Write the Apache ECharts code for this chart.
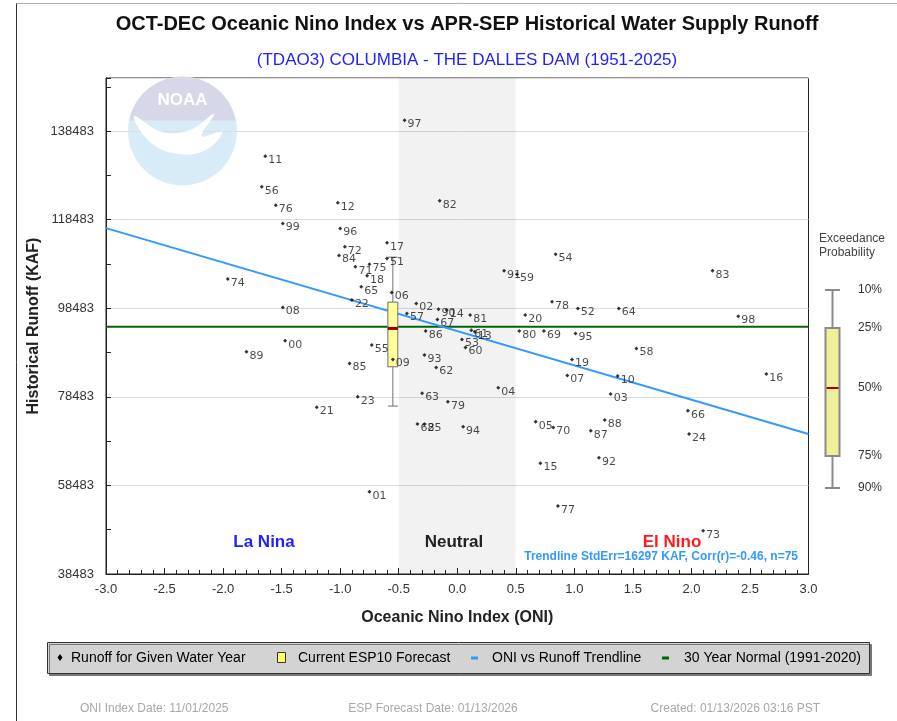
<!DOCTYPE html>
<html>
<head>
<meta charset="utf-8">
<title>ONI vs Runoff - The Dalles</title>
<script src="https://cdn.jsdelivr.net/npm/echarts@6.0.0/dist/echarts.min.js"></script>
<style>
html, body { margin: 0; padding: 0; background: #fff; }
#main { width: 897px; height: 721px; }
</style>
</head>
<body>
<div id="main"></div>
<script>
// water years 1951-2025, 2 digit labels
var years = ['51','52','53','54','55','56','57','58','59','60','61','62','63','64','65','66','67','68','69','70',
             '71','72','73','74','75','76','77','78','79','80','81','82','83','84','85','86','87','88','89','90',
             '91','92','93','94','95','96','97','98','99','00','01','02','03','04','05','06','07','08','09','10',
             '11','12','13','14','15','16','17','18','19','20','21','22','23','24','25'];
// OCT-DEC ONI
var oni = [-0.60, 1.03, 0.04, 0.84, -0.73, -1.67, -0.43, 1.53, 0.51, 0.07, 0.12, -0.18, -0.30, 1.38, -0.82, 1.97, -0.17, -0.34, 0.74, 0.82,
           -0.87, -0.96, 2.10, -1.96, -0.75, -1.55, 0.86, 0.81, -0.08, 0.53, 0.11, -0.15, 2.18, -1.01, -0.92, -0.27, 1.14, 1.26, -1.80, -0.16,
           0.40, 1.21, -0.28, 0.05, 1.01, -1.00, -0.45, 2.40, -1.49, -1.47, -0.75, -0.35, 1.31, 0.35, 0.67, -0.56, 0.94, -1.49, -0.55, 1.37,
           -1.64, -1.02, 0.15, -0.09, 0.71, 2.64, -0.60, -0.77, 0.98, 0.58, -1.20, -0.90, -0.85, 1.98, -0.28];
// APR-SEP runoff (KAF)
var runoff = [109740, 98450, 91460, 110710, 90170, 125900, 97320, 89420, 106190, 89650, 93550, 85140, 79270, 98450, 103330, 75340, 95970, 72340, 93330, 71590,
              107840, 112360, 48260, 105070, 108450, 121770, 53830, 99940, 77370, 93330, 96940, 122740, 106940, 110410, 86040, 93330, 70830, 73240, 88660, 98290,
              106940, 64730, 87910, 71730, 92810, 116510, 140950, 96710, 117640, 91140, 57060, 99580, 79110, 80530, 72860, 102060, 83330, 98680, 86940, 83170,
              132830, 122290, 93170, 98070, 63470, 83620, 113260, 105810, 86940, 96940, 76110, 100330, 78500, 70080, 72300];

var trendOni = [-3, 3];
var trendRunoff = [116575, 70081];
var normalRunoff = 94300;

// current ESP10 forecast, exceedance 10/25/50/75/90 %
var espOni = -0.55;
var espRunoff = [110030, 99873, 93937, 85271, 76401];
var exceedLabels = ['10%', '25%', '50%', '75%', '90%'];

var yMin = 38483, yMax = 150483;

var chart = echarts.init(document.getElementById('main'));

var pts = [];
for (var i = 0; i < oni.length; i++) {
    pts.push([oni[i], runoff[i], years[i]]);
}

function renderBox(params, api) {
    var x = api.value(0);
    var p10 = api.coord([x, api.value(1)]);
    var p25 = api.coord([x, api.value(2)]);
    var p50 = api.coord([x, api.value(3)]);
    var p75 = api.coord([x, api.value(4)]);
    var p90 = api.coord([x, api.value(5)]);
    var hw = 5;
    var ln = { stroke: '#6e6e6e', lineWidth: 1 };
    return {
        type: 'group',
        children: [
            { type: 'line', shape: { x1: p10[0], y1: p10[1], x2: p25[0], y2: p25[1] }, style: ln },
            { type: 'line', shape: { x1: p75[0], y1: p75[1], x2: p90[0], y2: p90[1] }, style: ln },
            { type: 'line', shape: { x1: p10[0] - hw, y1: p10[1], x2: p10[0] + hw, y2: p10[1] }, style: ln },
            { type: 'line', shape: { x1: p90[0] - hw, y1: p90[1], x2: p90[0] + hw, y2: p90[1] }, style: ln },
            { type: 'rect', shape: { x: p25[0] - hw, y: p25[1], width: hw * 2, height: p75[1] - p25[1] },
              style: { fill: '#ffff99', stroke: '#6e6e6e', lineWidth: 1 } },
            { type: 'line', shape: { x1: p50[0] - hw, y1: p50[1], x2: p50[0] + hw, y2: p50[1] },
              style: { stroke: '#990000', lineWidth: 3 } }
        ]
    };
}

// exceedance legend on the right
var exY = [290, 328, 388, 456, 488];
var exGraphic = [
    { type: 'text', x: 819, y: 232, style: { text: 'Exceedance\nProbability', fill: '#444', font: '12px "Liberation Sans"', lineHeight: 14 } },
    { type: 'line', shape: { x1: 832.5, y1: exY[0], x2: 832.5, y2: exY[4] }, style: { stroke: '#8a8a8a', lineWidth: 2 } },
    { type: 'line', shape: { x1: 825, y1: exY[0], x2: 840, y2: exY[0] }, style: { stroke: '#8a8a8a', lineWidth: 2 } },
    { type: 'line', shape: { x1: 825, y1: exY[4], x2: 840, y2: exY[4] }, style: { stroke: '#8a8a8a', lineWidth: 2 } },
    { type: 'rect', shape: { x: 825.5, y: exY[1], width: 14, height: exY[3] - exY[1] }, style: { fill: '#f0f09a', stroke: '#8a8a8a', lineWidth: 2 } },
    { type: 'line', shape: { x1: 826.5, y1: exY[2], x2: 838.5, y2: exY[2] }, style: { stroke: '#a00000', lineWidth: 2 } }
];
for (var k = 0; k < exceedLabels.length; k++) {
    exGraphic.push({ type: 'text', x: 858, y: exY[k], style: { text: exceedLabels[k], fill: '#333', font: '12px "Liberation Sans"', verticalAlign: 'middle' } });
}

var legendFont = '14px "Liberation Sans Narrow", "Arial Narrow", "Liberation Sans"';
var footFont = '12px "Liberation Sans Narrow", "Arial Narrow", "Liberation Sans"';

chart.setOption({
    animation: false,
    backgroundColor: '#fff',
    title: [
        { text: 'OCT-DEC Oceanic Nino Index vs APR-SEP Historical Water Supply Runoff', left: 462, top: 9, textAlign: 'center',
          textStyle: { fontFamily: 'Liberation Sans', fontSize: 20, fontWeight: 'bold', color: '#111' } },
        { text: '(TDAO3) COLUMBIA - THE DALLES DAM (1951-2025)', left: 462, top: 47, textAlign: 'center',
          textStyle: { fontFamily: 'Liberation Sans', fontSize: 17, fontWeight: 'normal', color: '#1f1fff' } }
    ],
    grid: { left: 106, right: 88.5, top: 78, bottom: 147, show: true, borderColor: '#222', borderWidth: 1, backgroundColor: 'transparent' },
    xAxis: {
        type: 'value', min: -3, max: 3, interval: 0.5,
        name: 'Oceanic Nino Index (ONI)', nameLocation: 'middle', nameGap: 36,
        nameTextStyle: { fontFamily: 'Liberation Sans', fontSize: 16, fontWeight: 'bold', color: '#222' },
        axisLine: { lineStyle: { color: '#222' } },
        axisTick: { inside: true, length: 6, lineStyle: { color: '#222' } },
        minorTick: { show: true, splitNumber: 5, length: 4, lineStyle: { color: '#222' } },
        axisLabel: { margin: 9, fontFamily: 'Liberation Sans', fontSize: 13, color: '#333', formatter: function (v) { return v.toFixed(1); } },
        splitLine: { show: false }
    },
    yAxis: [
        {
            type: 'value', min: yMin, max: yMax, interval: 10000,
            name: 'Historical Runoff (KAF)', nameLocation: 'middle', nameGap: 64, nameRotate: 90,
            nameTextStyle: { fontFamily: 'Liberation Sans', fontSize: 16, fontWeight: 'bold', color: '#222' },
            axisLine: { show: true, onZero: false, lineStyle: { color: '#222' } },
            axisTick: { inside: true, length: 5, lineStyle: { color: '#222' } },
            axisLabel: { show: false },
            splitLine: { show: false }
        },
        {
            type: 'value', min: yMin, max: yMax, interval: 20000, position: 'left',
            axisLine: { show: false, onZero: false },
            axisTick: { show: false },
            axisLabel: { margin: 12, fontFamily: 'Liberation Sans', fontSize: 13, color: '#333',
                formatter: function (v) { return v >= yMax ? '' : String(v); } },
            splitLine: { show: true, lineStyle: { color: '#dcdcdc', width: 1 } }
        }
    ],
    graphic: [
        // faded NOAA logo
        { type: 'circle', z: 0, shape: { cx: 182.5, cy: 131, r: 54.5 },
          style: { fill: new echarts.graphic.LinearGradient(0, 0, 0, 1, [
              { offset: 0, color: '#d6d8ea' }, { offset: 0.40, color: '#d6d8ea' },
              { offset: 0.41, color: '#d8ecf8' }, { offset: 1, color: '#d8ecf8' }]) } },
        { type: 'polygon', z: 1, shape: { smooth: 0.4, points: [[134, 116], [162, 132], [190, 130], [214, 114], [202, 136], [222, 132], [206, 150], [178, 154], [150, 142]] },
          style: { fill: '#ffffff' } },
        { type: 'text', z: 1, x: 182.5, y: 100, style: { text: 'NOAA', fill: '#ffffff', font: 'bold 17px "Liberation Sans"', align: 'center', verticalAlign: 'middle' } },
        { type: 'text', x: 264, y: 542, z: 10, style: { text: 'La Nina', fill: '#1f1fff', font: 'bold 17px "Liberation Sans"', align: 'center', verticalAlign: 'middle' } },
        { type: 'text', x: 454, y: 542, z: 10, style: { text: 'Neutral', fill: '#222', font: 'bold 17px "Liberation Sans"', align: 'center', verticalAlign: 'middle' } },
        { type: 'text', x: 672, y: 542, z: 10, style: { text: 'El Nino', fill: '#ff1a1a', font: 'bold 17px "Liberation Sans"', align: 'center', verticalAlign: 'middle' } },
        { type: 'text', x: 798, y: 557, z: 10, style: { text: 'Trendline StdErr=16297 KAF, Corr(r)=-0.46, n=75', fill: '#3399ff', font: 'bold 12px "Liberation Sans"', align: 'right', verticalAlign: 'middle' } },
        // page frame
        { type: 'line', shape: { x1: 16.5, y1: 3.5, x2: 897, y2: 3.5 }, style: { stroke: '#b0b0b0', lineWidth: 1 } },
        { type: 'line', shape: { x1: 16.5, y1: 3.5, x2: 16.5, y2: 721 }, style: { stroke: '#333', lineWidth: 1 } },
        // bottom legend
        { type: 'rect', shape: { x: 47.5, y: 642.5, width: 822, height: 31 },
          style: { fill: '#d3d3d3', stroke: '#333', lineWidth: 1, shadowColor: '#777', shadowOffsetX: 2, shadowOffsetY: 2 } },
        { type: 'polygon', shape: { points: [[60, 654], [62.5, 657.5], [60, 661], [57.5, 657.5]] }, style: { fill: '#000' } },
        { type: 'text', x: 71, y: 658, style: { text: 'Runoff for Given Water Year', fill: '#000', font: legendFont, verticalAlign: 'middle' } },
        { type: 'rect', shape: { x: 277.5, y: 652.5, width: 8, height: 10 }, style: { fill: '#ffff66', stroke: '#333', lineWidth: 1 } },
        { type: 'text', x: 298, y: 658, style: { text: 'Current ESP10 Forecast', fill: '#000', font: legendFont, verticalAlign: 'middle' } },
        { type: 'rect', shape: { x: 471, y: 656.5, width: 7, height: 3 }, style: { fill: '#3399ff' } },
        { type: 'text', x: 492, y: 658, style: { text: 'ONI vs Runoff Trendline', fill: '#000', font: legendFont, verticalAlign: 'middle' } },
        { type: 'rect', shape: { x: 662, y: 656.5, width: 7, height: 3 }, style: { fill: '#006600' } },
        { type: 'text', x: 684, y: 658, style: { text: '30 Year Normal (1991-2020)', fill: '#000', font: legendFont, verticalAlign: 'middle' } },
        { type: 'text', x: 80, y: 709, style: { text: 'ONI Index Date: 11/01/2025', fill: '#a8a8a8', font: footFont, verticalAlign: 'middle' } },
        { type: 'text', x: 433, y: 709, style: { text: 'ESP Forecast Date: 01/13/2026', fill: '#a8a8a8', font: footFont, align: 'center', verticalAlign: 'middle' } },
        { type: 'text', x: 820, y: 709, style: { text: 'Created: 01/13/2026 03:16 PST', fill: '#a8a8a8', font: footFont, align: 'right', verticalAlign: 'middle' } }
    ].concat(exGraphic),
    series: [
        {
            name: '30 Year Normal (1991-2020)', type: 'line', yAxisIndex: 0, z: 3,
            data: [[trendOni[0], normalRunoff], [trendOni[1], normalRunoff]],
            symbol: 'none', lineStyle: { color: '#006600', width: 2 },
            markArea: {
                silent: true,
                itemStyle: { color: 'rgba(0,0,0,0.05)' },
                data: [[{ xAxis: -0.5 }, { xAxis: 0.5 }]]
            }
        },
        {
            name: 'ONI vs Runoff Trendline', type: 'line', yAxisIndex: 0, z: 3,
            data: [[trendOni[0], trendRunoff[0]], [trendOni[1], trendRunoff[1]]],
            symbol: 'none', lineStyle: { color: '#3399ff', width: 2 }
        },
        {
            name: 'Current ESP10 Forecast', type: 'custom', yAxisIndex: 0, z: 4,
            renderItem: renderBox,
            data: [[espOni].concat(espRunoff)]
        },
        {
            name: 'Runoff for Given Water Year', type: 'scatter', yAxisIndex: 0, z: 5,
            data: pts, symbol: 'diamond', symbolSize: 4,
            itemStyle: { color: '#000' },
            label: {
                show: true, position: 'right', distance: 1, offset: [0, 4],
                formatter: function (p) { return p.data[2]; },
                fontFamily: 'DejaVu Sans', fontSize: 11, color: '#1a1a1a'
            }
        }
    ]
});
</script>
</body>
</html>
